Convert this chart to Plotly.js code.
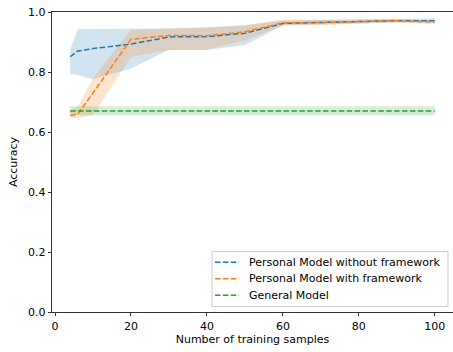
<!DOCTYPE html>
<html>
<head>
<meta charset="utf-8">
<script src="https://cdn.plot.ly/plotly-3.0.1.min.js"></script>
<style>
  html, body { margin: 0; padding: 0; background: #fff; }
  #chart { width: 453px; height: 352px; }
</style>
</head>
<body>
<div id="chart"></div>
<script>
// Training-set sizes
const samples = [4, 6, 10, 20, 30, 40, 50, 60, 70, 80, 90, 100];

// Personal model, no framework: mean and band
const noFwMean  = [0.851, 0.870, 0.878, 0.893, 0.917, 0.918, 0.929, 0.962, 0.965, 0.968, 0.971, 0.971];
const noFwUpper = [0.875, 0.943, 0.943, 0.943, 0.945, 0.948, 0.955, 0.972, 0.973, 0.975, 0.977, 0.978];
const noFwLower = [0.793, 0.790, 0.776, 0.812, 0.873, 0.873, 0.890, 0.955, 0.958, 0.962, 0.965, 0.965];

// Personal model, with framework: mean and band
const fwMean  = [0.655, 0.660, 0.730, 0.909, 0.922, 0.921, 0.934, 0.964, 0.965, 0.968, 0.971, 0.966];
const fwUpper = [0.670, 0.685, 0.780, 0.941, 0.945, 0.949, 0.957, 0.975, 0.974, 0.975, 0.978, 0.972];
const fwLower = [0.647, 0.647, 0.657, 0.850, 0.873, 0.875, 0.905, 0.955, 0.957, 0.962, 0.966, 0.960];

// General model: mean and band
const genMean  = [0.670, 0.670, 0.670, 0.670, 0.670, 0.670, 0.670, 0.670, 0.670, 0.670, 0.670, 0.670];
const genUpper = [0.686, 0.686, 0.686, 0.686, 0.686, 0.686, 0.686, 0.686, 0.686, 0.686, 0.686, 0.686];
const genLower = [0.656, 0.656, 0.656, 0.656, 0.656, 0.656, 0.656, 0.656, 0.656, 0.656, 0.656, 0.656];

const xTicks = [0, 20, 40, 60, 80, 100];
const yTicks = [0.0, 0.2, 0.4, 0.6, 0.8, 1.0];

const seriesNames = [
  'Personal Model without framework',
  'Personal Model with framework',
  'General Model'
];
const colors = ['#1f77b4', '#ff7f0e', '#2ca02c'];
const fills = ['rgba(31,119,180,0.2)', 'rgba(255,127,14,0.2)', 'rgba(44,160,44,0.2)'];
const dashStyle = '5.5px,2.4px';

const means = [noFwMean, fwMean, genMean];
const uppers = [noFwUpper, fwUpper, genUpper];
const lowers = [noFwLower, fwLower, genLower];

const traces = [];
// shaded bands first
for (let i = 0; i < 3; i++) {
  traces.push({
    x: samples, y: lowers[i], mode: 'lines', line: {width: 0, color: fills[i]},
    showlegend: false, hoverinfo: 'skip', type: 'scatter'
  });
  traces.push({
    x: samples, y: uppers[i], mode: 'lines', line: {width: 0, color: fills[i]},
    fill: 'tonexty', fillcolor: fills[i],
    showlegend: false, hoverinfo: 'skip', type: 'scatter'
  });
}
// dashed mean lines on top
for (let i = 0; i < 3; i++) {
  traces.push({
    x: samples, y: means[i], mode: 'lines', name: seriesNames[i],
    line: {color: colors[i], width: 1.5, dash: dashStyle},
    showlegend: false, type: 'scatter'
  });
}

const font = {family: 'DejaVu Sans, sans-serif', size: 11, color: '#000'};

// Plot-area geometry (px) used to lay out the legend box in paper space
const W = 453, H = 352;
const M = {l: 52, r: 0, t: 12, b: 39.5};
const pw = W - M.l - M.r, ph = H - M.t - M.b;
const px = v => (v - M.l) / pw;
const py = v => (H - M.b - v) / ph;

// Legend: framed box, short dashed samples, labels
const shapes = [{
  type: 'rect', xref: 'paper', yref: 'paper',
  x0: px(212), x1: px(448), y0: py(307), y1: py(252),
  line: {color: '#cccccc', width: 1}, fillcolor: 'rgba(255,255,255,0.8)', layer: 'above'
}];
const annotations = [];
const rowY = [262.7, 279.2, 295.7];
for (let i = 0; i < 3; i++) {
  shapes.push({
    type: 'line', xref: 'paper', yref: 'paper',
    x0: px(215), x1: px(239), y0: py(rowY[i]), y1: py(rowY[i]),
    line: {color: colors[i], width: 1.5, dash: dashStyle}, layer: 'above'
  });
  annotations.push({
    xref: 'paper', yref: 'paper', x: px(247), y: py(rowY[i]),
    xanchor: 'left', yanchor: 'middle', showarrow: false,
    text: seriesNames[i], font: font
  });
}

const layout = {
  width: W, height: H,
  margin: M,
  paper_bgcolor: '#fff', plot_bgcolor: '#fff',
  font: font,
  showlegend: false,
  xaxis: {
    range: [-0.8, 104.8], tickvals: xTicks, ticktext: xTicks.map(String),
    showgrid: false, zeroline: false, showline: true, mirror: true,
    linecolor: '#000', linewidth: 0.8, ticks: 'outside', ticklen: 3.5,
    tickwidth: 0.8, tickcolor: '#000', tickfont: font,
    title: {text: 'Number of training samples', font: font, standoff: 3}
  },
  yaxis: {
    range: [0, 1], tickvals: yTicks, ticktext: yTicks.map(v => v.toFixed(1)),
    showgrid: false, zeroline: false, showline: true, mirror: true,
    linecolor: '#000', linewidth: 0.8, ticks: 'outside', ticklen: 3.5,
    tickwidth: 0.8, tickcolor: '#000', tickfont: font,
    title: {text: 'Accuracy', font: font, standoff: 8}
  },
  shapes: shapes,
  annotations: annotations
};

Plotly.newPlot('chart', traces, layout, {displayModeBar: false, staticPlot: true});
</script>
</body>
</html>
